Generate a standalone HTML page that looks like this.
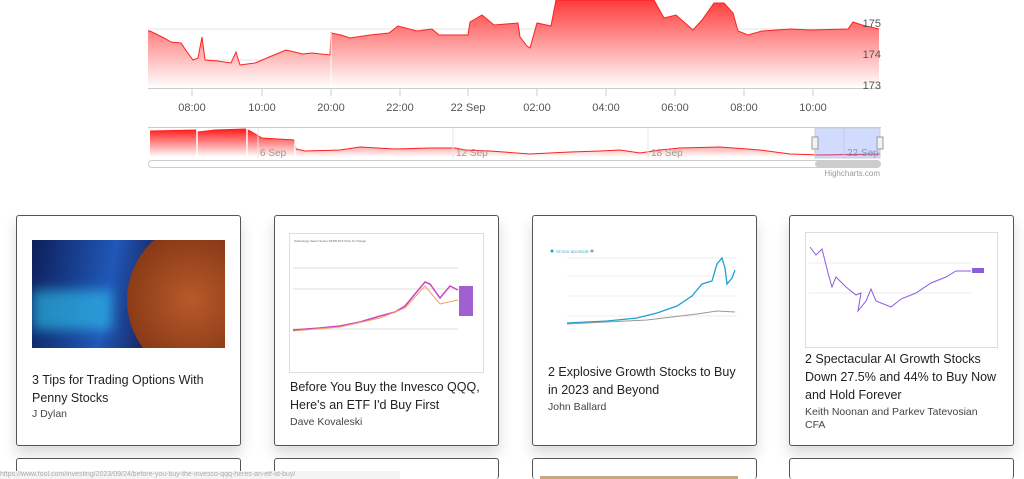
<!DOCTYPE html>
<html><head><meta charset="utf-8"><style>
html,body{margin:0;padding:0;background:#fff;width:1024px;height:479px;overflow:hidden;font-family:"Liberation Sans",sans-serif;}
#w{position:relative;width:1024px;height:479px;overflow:hidden;}
.card{position:absolute;width:223px;height:229px;border:1px solid #555;border-radius:3px;background:#fff;box-shadow:0 8px 14px rgba(0,0,0,0.15);}
.bc{height:30px;border-bottom:none;box-shadow:none;}
.t{position:absolute;left:15px;width:200px;font-size:12.5px;line-height:18px;color:#222;}
.a{position:absolute;left:15px;font-size:10.5px;color:#444;line-height:13px;}
</style></head><body><div id="w">
<svg width="1024" height="190" style="position:absolute;left:0;top:0" font-family="Liberation Sans, sans-serif">
<defs>
<linearGradient id="g" x1="0" y1="0" x2="0" y2="88" gradientUnits="userSpaceOnUse"><stop offset="0" stop-color="#ff3b3b"/><stop offset="1" stop-color="#ffffff"/></linearGradient>
<linearGradient id="g2" x1="0" y1="129" x2="0" y2="157" gradientUnits="userSpaceOnUse"><stop offset="0" stop-color="#ff1a1a"/><stop offset="1" stop-color="#ffffff"/></linearGradient>
</defs>
<line x1="148" y1="29" x2="881" y2="29" stroke="#e6e6e6"/>
<line x1="148" y1="60" x2="881" y2="60" stroke="#e6e6e6"/>
<path d="M148,31 L150,31 164,38 171,42 181,43 187,52 193,60 198,58 202,37 205,60 218,61 231,63 236,52 240,65 255,63 274,55 286,50 303,54 312,53 330,55 331,33 341,35 350,38 370,35 389,33 398,26 417,31 432,29 439,35 468,35 470,22 482,15 494,25 518,23 520,37 527,46 530,48 537,23 551,26 556,0 654,0 664,18 676,15 685,23 693,30 702,20 714,3 724,3 733,13 738,31 748,35 762,31 791,29 810,30 848,29 853,22 862,25 879,29 L879,88 L148,88 Z" fill="url(#g)"/>
<polyline points="148,31 150,31 164,38 171,42 181,43 187,52 193,60 198,58 202,37 205,60 218,61 231,63 236,52 240,65 255,63 274,55 286,50 303,54 312,53 330,55 331,33 341,35 350,38 370,35 389,33 398,26 417,31 432,29 439,35 468,35 470,22 482,15 494,25 518,23 520,37 527,46 530,48 537,23 551,26 556,0 654,0 664,18 676,15 685,23 693,30 702,20 714,3 724,3 733,13 738,31 748,35 762,31 791,29 810,30 848,29 853,22 862,25 879,29" fill="none" stroke="#ff2020" stroke-width="1"/>
<line x1="331" y1="33" x2="331" y2="89" stroke="#fff"/>
<line x1="148" y1="88.5" x2="881" y2="88.5" stroke="#ccc"/>
<g stroke="#ccc"><line x1="192" y1="89" x2="192" y2="96"/><line x1="262" y1="89" x2="262" y2="96"/><line x1="331" y1="89" x2="331" y2="96"/><line x1="400" y1="89" x2="400" y2="96"/><line x1="468" y1="89" x2="468" y2="96"/><line x1="537" y1="89" x2="537" y2="96"/><line x1="606" y1="89" x2="606" y2="96"/><line x1="675" y1="89" x2="675" y2="96"/><line x1="744" y1="89" x2="744" y2="96"/><line x1="813" y1="89" x2="813" y2="96"/></g>
<g font-size="11" fill="#555" text-anchor="middle"><text x="192" y="111">08:00</text><text x="262" y="111">10:00</text><text x="331" y="111">20:00</text><text x="400" y="111">22:00</text><text x="468" y="111">22 Sep</text><text x="537" y="111">02:00</text><text x="606" y="111">04:00</text><text x="675" y="111">06:00</text><text x="744" y="111">08:00</text><text x="813" y="111">10:00</text></g>
<g font-size="11" fill="#555" text-anchor="end"><text x="881" y="27">175</text><text x="881" y="58">174</text><text x="881" y="89">173</text></g>
<line x1="148" y1="127.5" x2="881" y2="127.5" stroke="#ccc"/>
<path d="M150,131 L196,130 198,132 215,130 245,129 250,131 262,138 294,140 296,149 305,151 340,150 360,147 395,149 430,148 455,148 465,150 490,151 530,154 570,152 600,151 620,150 640,153 660,150 680,148 720,147 760,150 790,154 820,155 880,154 L880,158 L150,158 Z" fill="url(#g2)"/>
<polyline points="150,131 196,130 198,132 215,130 245,129 250,131 262,138 294,140 296,149 305,151 340,150 360,147 395,149 430,148 455,148 465,150 490,151 530,154 570,152 600,151 620,150 640,153 660,150 680,148 720,147 760,150 790,154 820,155 880,154" fill="none" stroke="#ff2020"/>
<g stroke="#fff" stroke-width="1.5"><line x1="197" y1="129" x2="197" y2="158"/><line x1="247" y1="129" x2="247" y2="158"/><line x1="295" y1="129" x2="295" y2="158"/></g>
<g stroke="#e6e6e6"><line x1="258" y1="128" x2="258" y2="158"/><line x1="453" y1="128" x2="453" y2="158"/><line x1="648" y1="128" x2="648" y2="158"/><line x1="844" y1="128" x2="844" y2="158"/></g>
<g font-size="10" fill="#999"><text x="260" y="156">6 Sep</text><text x="456" y="156">12 Sep</text><text x="651" y="156">18 Sep</text><text x="847" y="156">22 Sep</text></g>
<rect x="815" y="128" width="65" height="30" fill="rgba(102,133,255,0.3)" stroke="#ccc"/>
<rect x="812" y="137" width="6" height="12" fill="#f2f2f2" stroke="#999"/>
<rect x="877" y="137" width="6" height="12" fill="#f2f2f2" stroke="#999"/>
<rect x="148.5" y="160.5" width="732" height="7" rx="3.5" fill="#fff" stroke="#ccc"/>
<rect x="815" y="161" width="65" height="6" rx="3" fill="#ccc"/>
<text x="880" y="176" font-size="8" fill="#999" text-anchor="end">Highcharts.com</text>
</svg>

<div class="card" style="left:16px;top:215px">
 <div style="position:absolute;left:15px;top:24px;width:193px;height:108px;overflow:hidden;background:linear-gradient(100deg,#0d1f5a,#2058b8 40%,#1a2a6a 60%,#2a1510)">
  <div style="position:absolute;left:95px;top:-20px;width:160px;height:160px;border-radius:50%;background:radial-gradient(circle at 40% 50%,#b85a2a,#7a3010 70%,#3a1808)"></div>
  <div style="position:absolute;left:0;top:50px;width:80px;height:40px;background:#30c8f0;opacity:.6;filter:blur(6px)"></div>
 </div>
 <div class="t" style="top:155px">3 Tips for Trading Options With Penny Stocks</div>
 <div class="a" style="top:192px">J Dylan</div>
</div>
<div class="card" style="left:274px;top:215px">
 <div style="position:absolute;left:14px;top:17px;width:193px;height:138px;border:1px solid #ddd;background:#fff">
  <svg width="193" height="138"><g stroke="#ddd"><line x1="3" y1="34" x2="168" y2="34"/><line x1="3" y1="55" x2="168" y2="55"/><line x1="3" y1="95" x2="168" y2="95"/></g>
  <polyline points="3,96 30,94 50,92 70,88 90,82 105,78 115,72 125,60 135,48 140,50 150,64 160,52 168,56" fill="none" stroke="#d040c0" stroke-width="1.5"/>
  <polyline points="3,97 50,93 90,84 115,74 135,52 150,70 168,66" fill="none" stroke="#f0a060" stroke-width="1"/>
  <g font-size="3" fill="#666"><text x="4" y="8">Technology Select Sector SPDR ETF Price % Change</text></g>
  <rect x="169" y="52" width="14" height="30" fill="#a060d0"/></svg>
 </div>
 <div class="t" style="top:162px">Before You Buy the Invesco QQQ, Here's an ETF I'd Buy First</div>
 <div class="a" style="top:200px">Dave Kovaleski</div>
</div>
<div class="card" style="left:532px;top:215px">
 <svg style="position:absolute;left:14px;top:30px" width="196" height="85"><g stroke="#eee"><line x1="20" y1="12" x2="190" y2="12"/><line x1="20" y1="30" x2="190" y2="30"/><line x1="20" y1="50" x2="190" y2="50"/><line x1="20" y1="70" x2="190" y2="70"/></g>
 <circle cx="5" cy="5" r="1.5" fill="#1ea0d0"/><text x="9" y="7" font-size="4" fill="#1ea0d0">STOCK ADVISOR</text><circle cx="45" cy="5" r="1.5" fill="#999"/>
 <polyline points="20,77 60,75 90,72 110,67 130,60 145,50 155,38 165,35 170,18 175,12 178,22 180,38 185,32 188,24" fill="none" stroke="#1ea0d0" stroke-width="1.3"/>
 <polyline points="20,78 100,74 150,68 170,65 188,66" fill="none" stroke="#999" stroke-width="1"/></svg>
 <div class="t" style="top:147px">2 Explosive Growth Stocks to Buy in 2023 and Beyond</div>
 <div class="a" style="top:185px">John Ballard</div>
</div>
<div class="card" style="left:789px;top:215px">
 <div style="position:absolute;left:15px;top:16px;width:191px;height:114px;border:1px solid #ddd;background:#fff">
 <svg width="191" height="114"><g stroke="#eee"><line x1="3" y1="30" x2="165" y2="30"/><line x1="3" y1="60" x2="165" y2="60"/></g>
 <polyline points="4,14 10,22 16,16 22,40 26,54 30,44 40,54 50,62 55,60 52,78 60,68 65,56 70,68 85,74 95,66 110,60 125,50 140,44 150,38 165,38" fill="none" stroke="#8a5ce0" stroke-width="1"/>
 <rect x="166" y="35" width="12" height="5" fill="#8a5ce0"/></svg></div>
 <div class="t" style="top:134px;width:210px">2 Spectacular AI Growth Stocks Down 27.5% and 44% to Buy Now and Hold Forever</div>
 <div class="a" style="top:190px">Keith Noonan and Parkev Tatevosian<br>CFA</div>
</div>
<div class="card bc" style="left:16px;top:458px;height:20px"></div>
<div class="card bc" style="left:274px;top:458px;height:20px"></div>
<div class="card bc" style="left:532px;top:458px;height:20px"><div style="position:absolute;left:7px;top:17px;width:198px;height:3px;background:#c8a880"></div></div>
<div class="card bc" style="left:789px;top:458px;height:20px"></div>
<div style="position:absolute;left:0;top:471px;width:400px;height:8px;background:#f4f4f4;font-size:7px;color:#aaa;line-height:8px;overflow:hidden">https://www.fool.com/investing/2023/09/24/before-you-buy-the-invesco-qqq-heres-an-etf-id-buy/</div>
</div></body></html>
